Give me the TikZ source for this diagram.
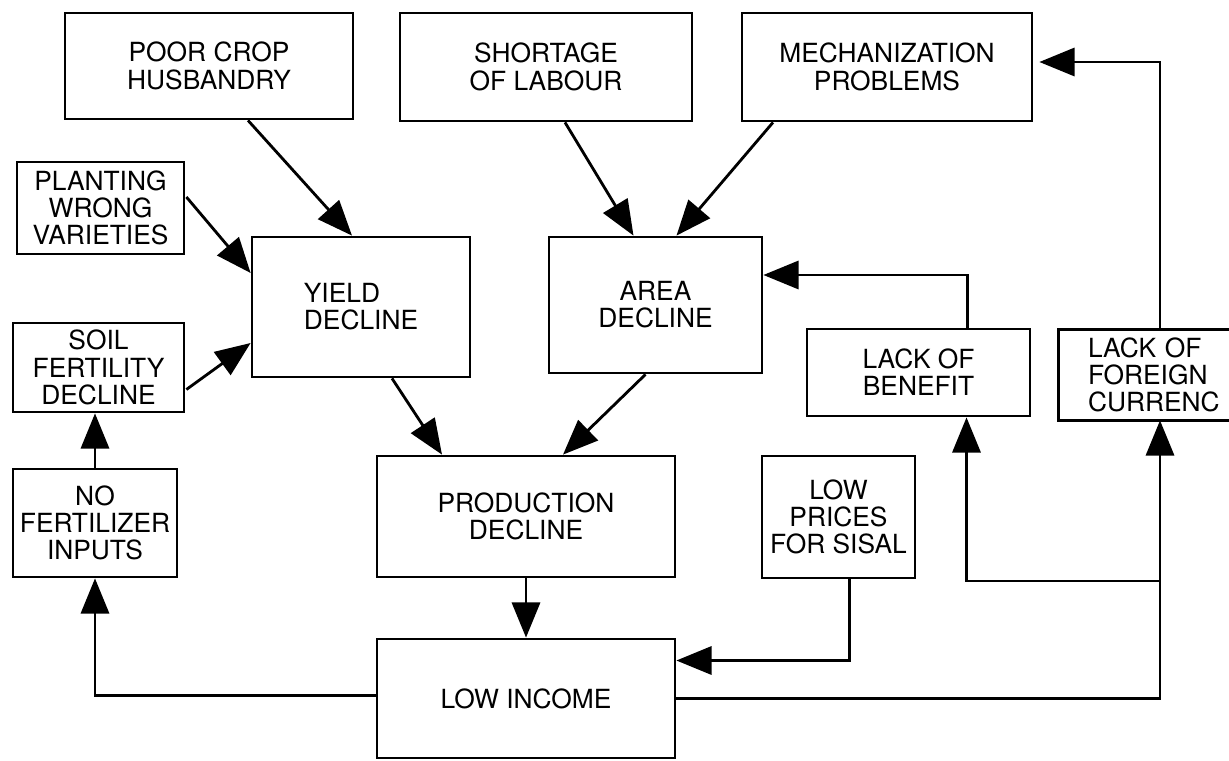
\documentclass[tikz,border=0pt]{standalone}
\usepackage{fontspec}
\setmainfont{TeX Gyre Heros}
\usetikzlibrary{calc,arrows.meta}

\begin{document}
\begin{tikzpicture}[x=0.02cm,y=-0.02cm,
  box/.style={draw,line width=1.6pt,align=center,inner sep=1pt,
    font={\fontsize{15}{15.5}\selectfont}},
  link/.style={line width=1.6pt,-{Triangle[length=20pt,width=16pt]}}]
  \useasboundingbox (0,0) rectangle (1229,760);
  \coordinate (edge) at (1229,0);
  % top row
  \node[box,minimum width=5.76cm,minimum height=2.12cm] (husbandry) at (209,66) {POOR CROP\\HUSBANDRY};
  \node[box,minimum width=5.84cm,minimum height=2.16cm] (labour) at (546,67) {SHORTAGE\\OF LABOUR};
  \node[box,minimum width=5.80cm,minimum height=2.16cm] (mech) at (887,67) {MECHANIZATION\\PROBLEMS};
  % middle
  \node[box,minimum width=3.34cm,minimum height=1.84cm] (varieties) at (100.5,208) {PLANTING\\WRONG\\VARIETIES};
  \node[box,align=left,minimum width=4.36cm,minimum height=2.80cm] (yield) at (361,307) {YIELD\\DECLINE};
  \node[box,minimum width=4.26cm,minimum height=2.72cm] (area) at (655.5,305) {AREA\\DECLINE};
  \node[box,minimum width=3.42cm,minimum height=1.78cm] (soil) at (98.5,367.5) {SOIL\\FERTILITY\\DECLINE};
  \node[box,minimum width=4.46cm,minimum height=1.74cm] (benefit) at (918.5,372.5) {LACK OF\\BENEFIT};
  % cut off by the right edge
  \node[box,draw=none,align=left,text width=2.88cm,minimum width=4cm,minimum height=1.76cm] (foreign) at (1160,375) {LACK OF\\FOREIGN\\CURRENC};
  \draw[line width=1.6pt] (foreign.north west -| edge) -- (foreign.north west)
    -- (foreign.south west) -- (foreign.south west -| edge);
  % bottom
  \node[box,minimum width=3.28cm,minimum height=2.16cm] (nofert) at (95,523) {NO\\FERTILIZER\\INPUTS};
  \node[box,minimum width=5.96cm,minimum height=2.42cm] (production) at (526,516.5) {PRODUCTION\\DECLINE};
  \node[box,minimum width=3.06cm,minimum height=2.44cm] (prices) at (838.5,517) {LOW\\PRICES\\FOR SISAL};
  \node[box,minimum width=5.96cm,minimum height=2.38cm] (income) at (526,698.5) {LOW INCOME};
  \coordinate (fork) at (1160,581);
  % arrows
  \draw[link] ($(husbandry.south)+(39,0)$) -- ($(yield.north)+(-9,0)$);
  \draw[link] ($(varieties.east)+(1,-11)$) -- ($(yield.west)+(0,-34)$);
  \draw[link] ($(soil.east)+(1,22)$) -- ($(yield.west)+(0,36)$);
  \draw[link] (nofert.north) -- (nofert.north |- soil.south);
  \draw[link] ($(labour.south)+(19,0)$) -- ($(area.north)+(-22,0)$);
  \draw[link] ($(mech.south)+(-114,0)$) -- ($(area.north)+(21,0)$);
  \draw[link] ($(yield.south)+(31,0)$) -- ($(production.north)+(-84,0)$);
  \draw[link] ($(area.south)+(-10,0)$) -- ($(production.north)+(37,0)$);
  \draw[link] (production.south) -- (income.north);
  \draw[link] ($(prices.south)+(11,0)$) |- ($(income.east)+(0,-38)$);
  \draw[link] ($(income.west)+(0,-3)$) -| (nofert.south);
  \draw[link] (income.east) -| (foreign.south);
  \draw[link] (fork) -| ($(benefit.south)+(48,0)$);
  \draw[link] ($(benefit.north)+(49,0)$) |- ($(area.east)+(0,-30)$);
  \draw[link] (foreign.north) |- ($(mech.east)+(6,-5)$);
\end{tikzpicture}
\end{document}
